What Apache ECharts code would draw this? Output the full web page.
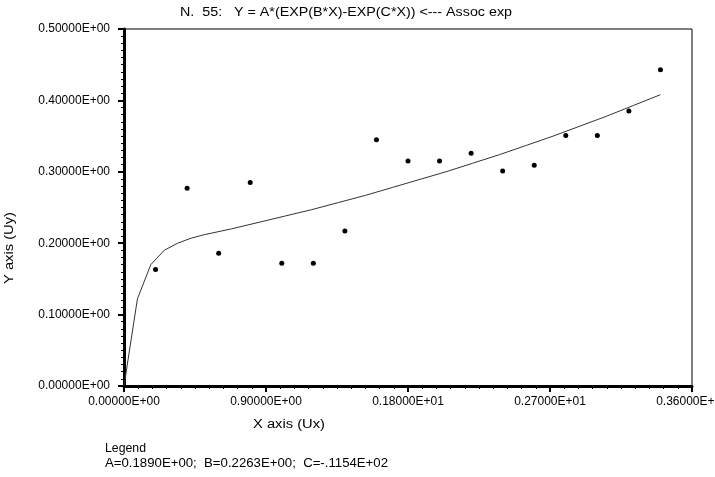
<!DOCTYPE html>
<html>
<head>
<meta charset="utf-8">
<script src="https://cdn.jsdelivr.net/npm/echarts@6/dist/echarts.min.js"></script>
<style>html,body{margin:0;padding:0;background:#fff}#c{width:715px;height:477px}</style>
</head>
<body>
<div id="c"></div>
<script>
// Observed data points
const obsX = [0.2, 0.4, 0.6, 0.8, 1.0, 1.2, 1.4, 1.6, 1.8, 2.0, 2.2, 2.4, 2.6, 2.8, 3.0, 3.2, 3.4];
const obsY = [0.163, 0.277, 0.186, 0.285, 0.172, 0.172, 0.217, 0.345, 0.315, 0.315, 0.326, 0.301, 0.309, 0.351, 0.351, 0.385, 0.443];
// Fitted curve
const fitX = [0, 0.085, 0.17, 0.255, 0.34, 0.425, 0.51, 0.68, 0.85, 1.02, 1.19, 1.36, 1.53, 1.70, 1.87, 2.04, 2.21, 2.38, 2.55, 2.72, 2.89, 3.06, 3.23, 3.40];
const fitY = [0, 0.122, 0.170, 0.190, 0.200, 0.207, 0.212, 0.220, 0.229, 0.238, 0.247, 0.257, 0.267, 0.278, 0.289, 0.300, 0.312, 0.324, 0.337, 0.350, 0.364, 0.378, 0.393, 0.408];
// Tick labels
const xTickLabels = ['0.00000E+00', '0.90000E+00', '0.18000E+01', '0.27000E+01', '0.36000E+01'];
const yTickLabels = ['0.00000E+00', '0.10000E+00', '0.20000E+00', '0.30000E+00', '0.40000E+00', '0.50000E+00'];
const titleText = 'N.  55:   Y = A*(EXP(B*X)-EXP(C*X)) <--- Assoc exp';
const xAxisName = 'X axis (Ux)';
const yAxisName = 'Y axis (Uy)';
const legendTitle = 'Legend';
const legendText = 'A=0.1890E+00;  B=0.2263E+00;  C=-.1154E+02';

const FONT = 'Liberation Sans, Arial, sans-serif';
const FONT12 = '12px ' + FONT;
const ctx = document.createElement('canvas').getContext('2d');
function widthScale(text, target) {
  ctx.font = FONT12;
  return target / ctx.measureText(text).width;
}
function label(text, x, y, target, extra) {
  return Object.assign({
    type: 'text', x: x, y: y, scaleX: widthScale(text, target),
    style: {text: text, font: FONT12, fill: '#000', align: 'left', verticalAlign: 'top'}
  }, extra || {});
}

const chart = echarts.init(document.getElementById('c'), null, {renderer: 'canvas'});
chart.setOption({
  animation: false,
  backgroundColor: '#fff',
  grid: {left: 124, right: 23, top: 29, bottom: 91, outerBoundsMode: 'none', containLabel: false,
    show: true, borderColor: '#000', borderWidth: 1, backgroundColor: 'transparent'},
  xAxis: {
    type: 'value', min: 0, max: 3.6, interval: 0.9,
    axisLine: {show: true, onZero: false, lineStyle: {color: '#000', width: 3}},
    axisTick: {show: true, length: 6, lineStyle: {color: '#000', width: 2}},
    minorTick: {show: true, splitNumber: 10, length: 3, lineStyle: {color: '#000', width: 1}},
    splitLine: {show: false},
    axisLabel: {color: '#000', fontFamily: FONT, fontSize: 12, margin: 10, showMaxLabel: true, hideOverlap: false,
      formatter: v => xTickLabels[Math.round(v / 0.9)]}
  },
  yAxis: {
    type: 'value', min: 0, max: 0.5, interval: 0.1,
    axisLine: {show: true, lineStyle: {color: '#000', width: 3}},
    axisTick: {show: true, length: 6, lineStyle: {color: '#000', width: 2}},
    minorTick: {show: true, splitNumber: 10, length: 3, lineStyle: {color: '#000', width: 1}},
    splitLine: {show: false},
    axisLabel: {color: '#000', fontFamily: FONT, fontSize: 12, margin: 14,
      formatter: v => yTickLabels[Math.round(v / 0.1)]}
  },
  series: [
    {type: 'line', data: fitX.map((x, i) => [x, fitY[i]]), showSymbol: false, symbol: 'none',
      lineStyle: {color: '#333', width: 1}, z: 2},
    {type: 'scatter', data: obsX.map((x, i) => [x, obsY[i]]), symbol: 'circle', symbolSize: 5,
      itemStyle: {color: '#000', opacity: 1}, z: 3}
  ],
  graphic: [
    label(titleText, 180, 7, 332),
    label(xAxisName, 253, 419, 72),
    label(yAxisName, 4, 284, 72, {rotation: Math.PI / 2}),
    label(legendTitle, 105, 443, 41),
    label(legendText, 105, 458, 283)
  ]
});
</script>
</body>
</html>
